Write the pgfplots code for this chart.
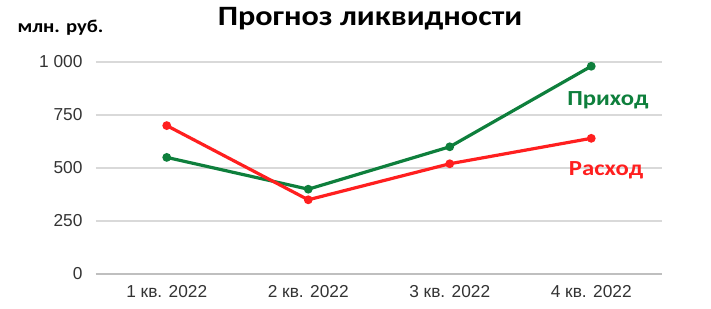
\documentclass[border=0pt]{standalone}
\usepackage{fontspec}
\setmainfont{Liberation Sans}
\newfontfamily\carlito[FakeStretch=1.15]{Carlito}
\usepackage{pgfplots}
\pgfplotsset{compat=1.18}
\definecolor{grn}{HTML}{0E7F3C}
\definecolor{rd}{HTML}{FF1F1F}
\definecolor{grd}{HTML}{D9D9D9}
\definecolor{axl}{HTML}{BFBFBF}
\definecolor{tl}{HTML}{333333}
\begin{document}
\begin{tikzpicture}
\begin{axis}[
  at={(0,0)}, anchor=south west,
  scale only axis, width=566bp, height=212bp,
  xmin=-0.5, xmax=3.5, ymin=0, ymax=1000,
  xtick={0,1,2,3},
  xticklabels={1 кв. 2022, 2 кв. 2022, 3 кв. 2022, 4 кв. 2022},
  ytick={0,250,500,750,1000},
  /pgf/number format/.cd, 1000 sep={\ }, assume math mode=true,
  /pgfplots/.cd,
  axis line style={draw=none},
  axis x line*=bottom, axis y line*=left,
  tick style={draw=none},
  ymajorgrids, grid style={grd, line width=1.2bp},
  tick label style={font=\fontsize{17.3bp}{20bp}\selectfont, text=tl},
  yticklabel style={xshift=-10bp},
  xticklabel style={yshift=-8bp},
  clip=false,
]
\draw[axl, line width=2bp] (axis cs:-0.5,0) -- (axis cs:3.5,0);
\addplot[grn, line width=3.2bp, mark=*, mark size=2.7bp, mark options={solid}] coordinates {(0,550) (1,400) (2,600) (3,980)};
\addplot[rd, line width=3.2bp, mark=*, mark size=2.7bp, mark options={solid}] coordinates {(0,700) (1,350) (2,520) (3,640)};
\node[grn, font=\carlito\bfseries\fontsize{21.5bp}{24bp}\selectfont] at (axis cs:3.118,821) {Приход};
\node[rd, font=\carlito\bfseries\fontsize{21.5bp}{24bp}\selectfont] at (axis cs:3.105,490) {Расход};
\end{axis}
\node[font=\carlito\bfseries\fontsize{28bp}{32bp}\selectfont] at (274bp,255bp) {Прогноз ликвидности};
\node[font=\carlito\bfseries\fontsize{18bp}{21bp}\selectfont] at (-35.5bp,246bp) {млн. руб.};
\pgfresetboundingbox
\useasboundingbox (-96bp,-35bp) rectangle (615bp,274bp);
\end{tikzpicture}
\end{document}
